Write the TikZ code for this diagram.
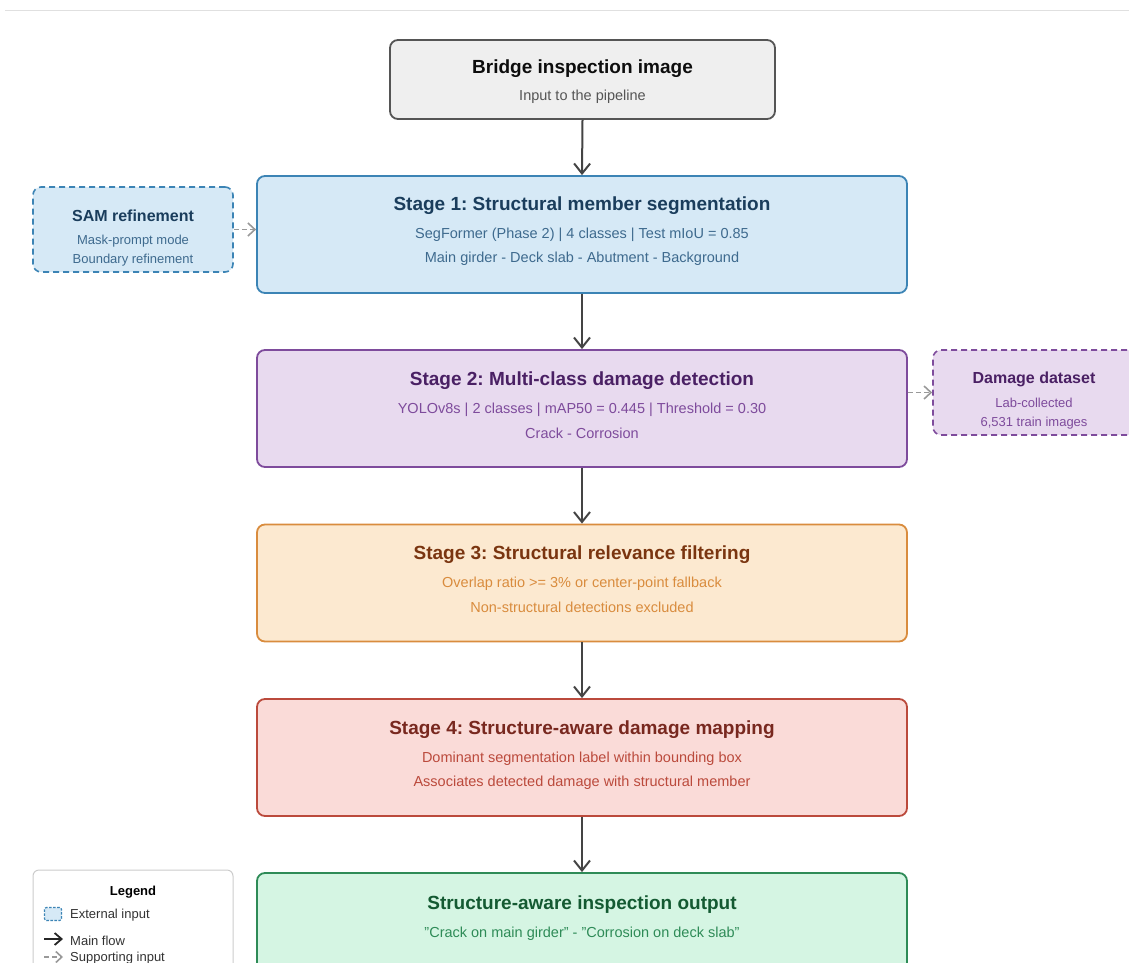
\documentclass[tikz,border=0pt]{standalone}
\usepackage{fontspec}
\setmainfont{Liberation Sans}
\usetikzlibrary{arrows.meta}

\definecolor{inFill}{HTML}{EFEFEF}
\definecolor{inDraw}{HTML}{555555}
\definecolor{inText}{HTML}{555555}
\definecolor{segFill}{HTML}{D6E9F6}
\definecolor{segDraw}{HTML}{3C84B5}
\definecolor{segTitle}{HTML}{1A3D5C}
\definecolor{segText}{HTML}{3E6A8E}
\definecolor{detFill}{HTML}{E8DAEF}
\definecolor{detDraw}{HTML}{7E4B9C}
\definecolor{detTitle}{HTML}{4A2064}
\definecolor{filFill}{HTML}{FCE9D0}
\definecolor{filDraw}{HTML}{D98C3E}
\definecolor{filTitle}{HTML}{7A3510}
\definecolor{mapFill}{HTML}{FADBD8}
\definecolor{mapDraw}{HTML}{BB4A3C}
\definecolor{mapTitle}{HTML}{78281F}
\definecolor{outFill}{HTML}{D5F5E3}
\definecolor{outDraw}{HTML}{2E8B57}
\definecolor{outTitle}{HTML}{145A32}
\definecolor{flowGray}{HTML}{444444}
\definecolor{suppGray}{HTML}{999999}

\begin{document}
\frenchspacing
\begin{tikzpicture}[x=1pt, y=-1pt,
  stagebox/.style={draw, rounded corners=8pt, line width=1.8pt, minimum width=650pt, minimum height=117pt},
  sidebox/.style={draw, dash pattern=on 6pt off 4pt, rounded corners=8pt, line width=1.6pt, minimum width=200pt, minimum height=85pt},
  ttl/.style={font=\fontsize{19}{23}\selectfont\bfseries, inner sep=0pt},
  subtxt/.style={font=\fontsize{14.5}{17}\selectfont, inner sep=0pt},
  sidettl/.style={font=\fontsize{16}{19}\selectfont\bfseries, inner sep=0pt},
  sidetxt/.style={font=\fontsize{13}{16}\selectfont, inner sep=0pt},
  legtxt/.style={font=\fontsize{13}{16}\selectfont, inner sep=0pt, anchor=west, text=black!80},
  mainflow/.style={-{Straight Barb[length=10pt,width=16pt]}, line width=2pt, draw=flowGray},
  suppflow/.style={-{Straight Barb[length=7pt,width=13pt]}, dash pattern=on 5pt off 3pt, line width=1.6pt, draw=suppGray}]

  \useasboundingbox (0,0) rectangle (1129,963);
  \clip (0,0) rectangle (1129,963);
  \draw[black!12, line width=1pt] (5,11) -- (1129,11);

  % Input
  \node[stagebox, minimum width=385pt, minimum height=79pt, fill=inFill, draw=inDraw] (in) at (582.5,79.5) {};
  \node[ttl, text=black!95] (inT) at (582.5,68.5) {Bridge inspection image};
  \node[subtxt, text=inText] (inA) at (582.5,96.5) {Input to the pipeline};

  % Stage 1
  \node[stagebox, fill=segFill, draw=segDraw] (s1) at (582,234.5) {};
  \node[ttl, text=segTitle] (s1T) at (582,205.5) {Stage 1: Structural member segmentation};
  \node[subtxt, text=segText] (s1A) at (582,234.5) {SegFormer (Phase 2) | 4 classes | Test mIoU = 0.85};
  \node[subtxt, text=segText] (s1B) at (582,258.5) {Main girder - Deck slab - Abutment - Background};

  % Stage 2
  \node[stagebox, fill=detFill, draw=detDraw] (s2) at (582,408.5) {};
  \node[ttl, text=detTitle] (s2T) at (582,380.5) {Stage 2: Multi-class damage detection};
  \node[subtxt, text=detDraw] (s2A) at (582,409.5) {YOLOv8s | 2 classes | mAP50 = 0.445 | Threshold = 0.30};
  \node[subtxt, text=detDraw] (s2B) at (582,433.5) {Crack - Corrosion};

  % Stage 3
  \node[stagebox, fill=filFill, draw=filDraw] (s3) at (582,583) {};
  \node[ttl, text=filTitle] (s3T) at (582,554.5) {Stage 3: Structural relevance filtering};
  \node[subtxt, text=filDraw] (s3A) at (582,583.5) {Overlap ratio >= 3\% or center-point fallback};
  \node[subtxt, text=filDraw] (s3B) at (582,607.5) {Non-structural detections excluded};

  % Stage 4
  \node[stagebox, fill=mapFill, draw=mapDraw] (s4) at (582,757.5) {};
  \node[ttl, text=mapTitle] (s4T) at (582,729.5) {Stage 4: Structure-aware damage mapping};
  \node[subtxt, text=mapDraw] (s4A) at (582,758.5) {Dominant segmentation label within bounding box};
  \node[subtxt, text=mapDraw] (s4B) at (582,782.5) {Associates detected damage with structural member};

  % Output
  \node[stagebox, fill=outFill, draw=outDraw] (out) at (582,931.5) {};
  \node[ttl, text=outTitle] (outT) at (582,904.5) {Structure-aware inspection output};
  \node[subtxt, text=outDraw] (outA) at (582,933.5) {\symbol{34}Crack on main girder\symbol{34} - \symbol{34}Corrosion on deck slab\symbol{34}};

  % Supporting inputs
  \node[sidebox, fill=segFill, draw=segDraw] (sam) at (133,229.5) {};
  \node[sidettl, text=segTitle] (samT) at (133,216) {SAM refinement};
  \node[sidetxt, text=segText] (samA) at (133,241) {Mask-prompt mode};
  \node[sidetxt, text=segText] (samB) at (133,260) {Boundary refinement};

  \node[sidebox, minimum width=202pt, fill=detFill, draw=detDraw] (dmg) at (1034,392.5) {};
  \node[sidettl, text=detTitle] (dmgT) at (1034,379) {Damage dataset};
  \node[sidetxt, text=detDraw] (dmgA) at (1034,403) {Lab-collected};
  \node[sidetxt, text=detDraw] (dmgB) at (1034,423) {6,531 train images};

  % Main flow
  \draw[mainflow] (in.south) -- (s1.north);
  \draw[mainflow] (s1.south) -- (s2.north);
  \draw[mainflow] (s2.south) -- (s3.north);
  \draw[mainflow] (s3.south) -- (s4.north);
  \draw[mainflow] (s4.south) -- (out.north);

  % Supporting flow
  \draw[suppflow] (sam.east) -- (sam.east -| s1.west);
  \draw[suppflow] (s2.east |- dmg.west) -- (dmg.west);

  % Legend
  \node[draw=black!20, line width=1pt, rounded corners=6pt, fill=white, minimum width=200pt, minimum height=110pt] (leg) at (133,925) {};
  \node[font=\fontsize{13}{16}\selectfont\bfseries, inner sep=0pt] (legT) at (133,892) {Legend};
  \node[draw=segDraw, fill=segFill, dash pattern=on 2.5pt off 1.5pt, line width=1.2pt, rounded corners=2pt, minimum width=17pt, minimum height=13pt, inner sep=0pt] (legBox) at (53,914) {};
  \node[legtxt] (legExt) at (70,915.5) {External input};
  \coordinate (legM) at (44,939);
  \coordinate (legMe) at (63,939);
  \node[legtxt] (legMain) at (70,940.5) {Main flow};
  \draw[mainflow, draw=black!85, line width=1.8pt, -{Straight Barb[length=7pt,width=12pt]}] (legM) -- (legMe);
  \coordinate (legS) at (44,957);
  \coordinate (legSe) at (63,957);
  \node[legtxt] (legSupp) at (70,958.5) {Supporting input};
  \draw[suppflow, -{Straight Barb[length=6pt,width=11pt]}] (legS) -- (legSe);
\end{tikzpicture}
\end{document}
